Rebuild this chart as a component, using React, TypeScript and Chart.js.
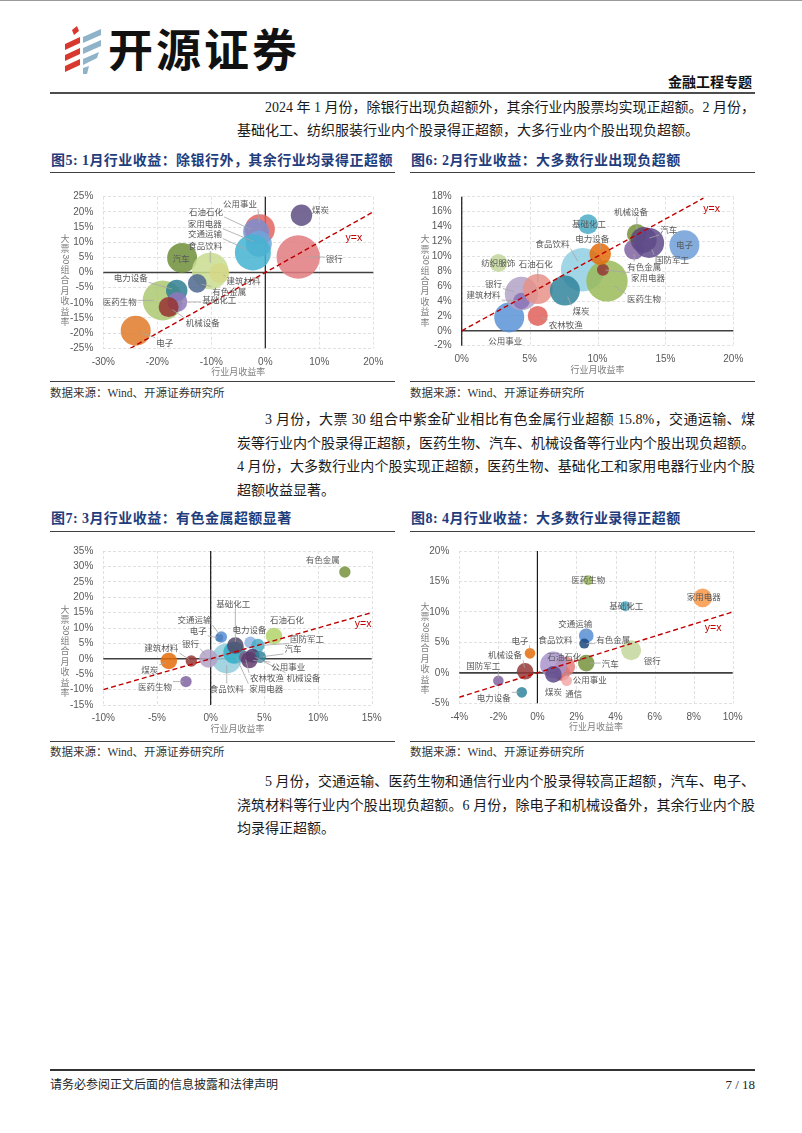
import React, { useEffect, useRef } from "react";
import { Chart, registerables } from "chart.js";

Chart.register(...registerables);

// ===== 图5：1月 =====
const janNames = ["煤炭", "银行", "公用事业", "石油石化", "家用电器", "交通运输", "汽车", "食品饮料", "建筑材料", "有色金属", "医药生物", "电力设备", "基础化工", "机械设备", "电子"];
const janIndustryRet = [6.7, 6.1, -1.0, -1.7, -1.2, -2.3, -15.4, -10.2, -8.5, -12.6, -19.0, -16.4, -16.3, -17.9, -24.0];
const janPortfolioRet = [18.9, 5.1, 14.3, 13.4, 9.5, 6.6, 4.8, 0.5, -0.2, -3.6, -9.2, -5.9, -9.7, -11.4, -19.2];
const janSize = [10.7, 21.7, 15, 13, 13, 18, 15, 18.3, 10, 9.3, 20, 10.7, 10, 10, 15];
const janXTicks = [-30, -20, -10, 0, 10, 20];
const janYTicks = [-25, -20, -15, -10, -5, 0, 5, 10, 15, 20, 25];

// ===== 图6：2月 =====
const febNames = ["纺织服饰", "食品饮料", "医药生物", "家用电器", "公用事业", "银行", "建筑材料", "石油石化", "农林牧渔", "煤炭", "电力设备", "基础化工", "有色金属", "机械设备", "汽车", "国防军工", "电子"];
const febIndustryRet = [2.7, 8.9, 10.7, 10.4, 3.5, 4.4, 4.4, 5.6, 5.6, 7.6, 10.2, 9.3, 12.7, 12.9, 13.4, 13.8, 16.4];
const febPortfolioRet = [9.1, 8.2, 6.7, 8.2, 1.8, 5.0, 4.0, 5.6, 2.0, 5.4, 10.3, 14.3, 10.9, 13.0, 12.2, 11.8, 11.5];
const febSize = [9, 21.7, 20.7, 6, 15, 16.7, 8.3, 15, 10, 15, 10.7, 10, 10, 10, 13, 15, 15];
const febXTicks = [0, 5, 10, 15, 20];
const febYTicks = [-2, 0, 2, 4, 6, 8, 10, 12, 14, 16, 18];

// ===== 图7：3月 =====
const marNames = ["有色金属", "石油石化", "交通运输", "电子", "食品饮料", "家用电器", "基础化工", "电力设备", "国防军工", "农林牧渔", "机械设备", "汽车", "公用事业", "银行", "建筑材料", "煤炭", "医药生物"];
const marIndustryRet = [12.5, 5.9, 1.0, 0.8, 1.5, 2.2, 2.3, 3.7, 4.4, 3.2, 3.9, 4.6, 3.6, -0.2, -1.8, -3.9, -2.3];
const marPortfolioRet = [28.2, 7.4, 7.1, 6.8, 0.1, 2.0, 4.3, 5.3, 4.3, 0.6, 1.0, 0.6, -0.4, 0.1, -0.7, -0.7, -7.4];
const marSize = [5.7, 8.3, 5.7, 4, 15, 11, 8.3, 6, 6.7, 6, 7, 6, 8.3, 9.3, 5.7, 8.3, 5.7];
const marXTicks = [-10, -5, 0, 5, 10, 15];
const marYTicks = [-15, -10, -5, 0, 5, 10, 15, 20, 25, 30, 35];

// ===== 图8：4月 =====
const aprNames = ["公用事业", "石油石化", "食品饮料", "煤炭", "通信", "家用电器", "医药生物", "基础化工", "交通运输", "有色金属", "银行", "汽车", "电子", "机械设备", "国防军工", "电力设备"];
const aprIndustryRet = [1.25, 1.42, 0.82, 0.82, 1.5, 8.46, 2.6, 4.5, 2.5, 2.4, 4.8, 2.5, -0.38, -0.63, -2.0, -0.8];
const aprPortfolioRet = [0.0, 1.06, 1.3, -0.26, -1.3, 12.3, 15.2, 10.95, 6.1, 4.8, 3.7, 1.6, 3.2, 0.26, -1.3, -3.2];
const aprSize = [8, 10, 13.3, 8.3, 5.3, 9.3, 5, 5, 7.3, 5, 10, 8.3, 5.3, 8.3, 5.3, 5.3];
const aprXTicks = [-4, -2, 0, 2, 4, 6, 8, 10];
const aprYTicks = [-5, 0, 5, 10, 15, 20];

// ===== styles (colours / label placement) =====
const janColors = ["#5f4f82", "#e07b80", "#e2645f", "#7b8fd0", "#6ea6dc", "#45b3d1", "#6f8f3a", "#c9dc8f", "#d6d88a", "#4e6791", "#adc971", "#2f7f93", "#8f78bd", "#993333", "#e07a2a"];
const janLabelOffsets = [[19, -5, 0], [36, 2, 1], [-20, -25, 1], [-50, -20, 1], [-54, -20, 1], [-48, -19, 1], [-1, 1, 0], [-5, -25, 1], [24, 8, 1], [32, 8, 1], [-43, 1, 1], [-46, -13, 1], [42, -2, 1], [34, 16, 1], [29, 12, 1]];

const febColors = ["#c3d69b", "#8fcfe0", "#9bbb59", "#953735", "#5b93d6", "#b3a2c7", "#8a72b8", "#e6928a", "#e0605a", "#31859c", "#e46c0a", "#4bacc6", "#8064a2", "#77933c", "#604a7b", "#5f4b8b", "#6f9fd8"];
const febLabelOffsets = [[0, 0, 0], [-30, -26, 1], [37, 18, 1], [45, 8, 1], [-4, 23, 0], [-28, -10, 1], [-38, -6, 1], [-2, -25, 1], [28, 9, 1], [16, 20, 1], [-8, -15, 1], [1, 0, 0], [10, 17, 1], [-6, -22, 1], [25, -10, 1], [23, 17, 1], [0, 0, 0]];

const marColors = ["#77933c", "#b3d36a", "#558ed5", "#4f81bd", "#93cddd", "#31b0c9", "#514a6a", "#8eb4e3", "#4bacc6", "#7f6084", "#4a3a6a", "#31859c", "#5f3c6e", "#b3a2c7", "#953735", "#e46c0a", "#8064a2"];
const marLabelOffsets = [[-22, -12, 0], [13, -16, 0], [-27, -17, 1], [-21, -7, 1], [0, 30, 1], [32, 36, 1], [-2, -42, 1], [-1, -13, 0], [49, -7, 1], [22, 21, 1], [51, 22, 1], [33, -8, 1], [39, 7, 1], [-18, -15, 1], [-30, -13, 1], [-19, 9, 1], [-31, 5, 1]];

const aprColors = ["#c0504d", "#e07b7b", "#a994cc", "#5f4b8b", "#f2a8a8", "#f79646", "#9bbb59", "#4bacc6", "#558ed5", "#1f497d", "#c3d69b", "#77933c", "#e46c0a", "#953735", "#8064a2", "#31859c"];
const aprLabelOffsets = [[28, 7, 1], [-1, -10, 0], [2, -25, 0], [0, 17, 0], [7, 13, 0], [1, -1, 0], [0, 0, 0], [1, 0, 0], [-11, -12, 1], [29, -4, 1], [21, 10, 0], [24, 1, 1], [-10, -13, 1], [-20, -16, 1], [-15, -15, 1], [-28, 5, 1]];

const CW = 345;
const CH = 205;

type Spec = {
  names: string[];
  xs: number[];
  ys: number[];
  sizes: number[];
  colors: string[];
  offsets: number[][];
  xTicks: number[];
  yTicks: number[];
  line: [number, number];
  yxAt: [number, number];
  area: { left: number; right: number; top: number; bottom: number };
  yTitleY: number;
};

const specs: Record<string, Spec> = {
  jan: {
    names: janNames, xs: janIndustryRet, ys: janPortfolioRet, sizes: janSize, colors: janColors, offsets: janLabelOffsets,
    xTicks: janXTicks, yTicks: janYTicks, line: [-25, 20], yxAt: [16.4, 11.5],
    area: { left: 53.3, right: 326.7, top: 10, bottom: 173.3 }, yTitleY: 105,
  },
  feb: {
    names: febNames, xs: febIndustryRet, ys: febPortfolioRet, sizes: febSize, colors: febColors, offsets: febLabelOffsets,
    xTicks: febXTicks, yTicks: febYTicks, line: [0, 17.8], yxAt: [18.4, 16.4],
    area: { left: 51.7, right: 325, top: 12.3, bottom: 170.7 }, yTitleY: 105.5,
  },
  mar: {
    names: marNames, xs: marIndustryRet, ys: marPortfolioRet, sizes: marSize, colors: marColors, offsets: marLabelOffsets,
    xTicks: marXTicks, yTicks: marYTicks, line: [-10, 15], yxAt: [14.2, 11.4],
    area: { left: 53.3, right: 321.7, top: 11, bottom: 170 }, yTitleY: 116,
  },
  apr: {
    names: aprNames, xs: aprIndustryRet, ys: aprPortfolioRet, sizes: aprSize, colors: aprColors, offsets: aprLabelOffsets,
    xTicks: aprXTicks, yTicks: aprYTicks, line: [-4, 10], yxAt: [9.0, 7.4],
    area: { left: 49.3, right: 322.7, top: 11, bottom: 168.3 }, yTitleY: 113,
  },
};

const CJK = '"Noto Sans CJK SC", sans-serif';
const TICK_FONT = '10px "Liberation Sans", Arial, sans-serif';
const YTITLE = ["大", "票", "30", "组", "合", "月", "收", "益", "率"];

function withAlpha(hex: string, a: number) {
  const n = parseInt(hex.slice(1), 16);
  return `rgba(${(n >> 16) & 255},${(n >> 8) & 255},${n & 255},${a})`;
}

function decoPlugin(spec: Spec) {
  return {
    id: "deco",
    beforeDatasetsDraw(chart: any) {
      const { ctx, chartArea: a, scales } = chart;
      const xs = scales.x;
      const ys = scales.y;
      ctx.save();
      // vertical dashed gridlines + x tick labels, placed by the x scale
      ctx.strokeStyle = "#d9d9d9";
      ctx.lineWidth = 0.8;
      ctx.setLineDash([3, 2]);
      spec.xTicks.forEach((v) => {
        const px = Math.round(xs.getPixelForValue(v)) + 0.5;
        ctx.beginPath();
        ctx.moveTo(px, a.top);
        ctx.lineTo(px, a.bottom);
        ctx.stroke();
      });
      ctx.setLineDash([]);
      ctx.fillStyle = "#595959";
      ctx.font = TICK_FONT;
      ctx.textAlign = "center";
      ctx.textBaseline = "middle";
      spec.xTicks.forEach((v) => {
        ctx.fillText(`${v}%`, xs.getPixelForValue(v), a.bottom + 13.5);
      });
      // zero axes
      const x0 = xs.getPixelForValue(0);
      const y0 = ys.getPixelForValue(0);
      ctx.strokeStyle = "#404040";
      ctx.lineWidth = 1.6;
      ctx.beginPath();
      ctx.moveTo(a.left, y0);
      ctx.lineTo(a.right, y0);
      ctx.stroke();
      ctx.strokeStyle = "#1a1a1a";
      ctx.lineWidth = 1.2;
      ctx.beginPath();
      ctx.moveTo(x0, a.top);
      ctx.lineTo(x0, a.bottom);
      ctx.stroke();
      ctx.restore();
    },
    afterDatasetsDraw(chart: any) {
      const { ctx, chartArea: a, scales } = chart;
      const meta = chart.getDatasetMeta(1);
      ctx.save();
      ctx.font = `8.5px ${CJK}`;
      ctx.textAlign = "center";
      ctx.textBaseline = "middle";
      meta.data.forEach((el: any, i: number) => {
        const name = spec.names[i];
        const [dx, dy, lead] = spec.offsets[i];
        const px = el.x;
        const py = el.y;
        const r = spec.sizes[i];
        const lx = px + dx;
        const ly = py + dy;
        const w = ctx.measureText(name).width;
        const h = 10;
        if (lead) {
          const bx = Math.max(lx - w / 2 - 1, Math.min(px, lx + w / 2 + 1));
          const by = Math.max(ly - h / 2, Math.min(py, ly + h / 2));
          const vx = bx - px;
          const vy = by - py;
          const d = Math.hypot(vx, vy);
          const stop = r * 0.45;
          if (d > stop + 2) {
            ctx.strokeStyle = "#a6a6a6";
            ctx.lineWidth = 0.8;
            ctx.beginPath();
            ctx.moveTo(bx, by);
            ctx.lineTo(px + (vx / d) * stop, py + (vy / d) * stop);
            ctx.stroke();
          }
        }
        ctx.fillStyle = "#595959";
        ctx.fillText(name, lx, ly);
      });
      // y=x label
      ctx.fillStyle = "#c00000";
      ctx.font = '10.5px "Liberation Sans", Arial, sans-serif';
      ctx.fillText("y=x", scales.x.getPixelForValue(spec.yxAt[0]), scales.y.getPixelForValue(spec.yxAt[1]));
      // x title
      ctx.fillStyle = "#7f7f7f";
      ctx.font = `9px ${CJK}`;
      ctx.fillText("行业月收益率", (a.left + a.right) / 2, a.bottom + 23.5);
      // y title (stacked)
      const step = 10.4;
      let cy = spec.yTitleY - (step * (YTITLE.length - 1)) / 2;
      YTITLE.forEach((c) => {
        if (c.length > 1) {
          ctx.save();
          ctx.translate(15, cy);
          ctx.rotate(Math.PI / 2);
          ctx.font = '9px "Liberation Sans", Arial, sans-serif';
          ctx.fillText(c, 0, 0);
          ctx.restore();
        } else {
          ctx.font = `9px ${CJK}`;
          ctx.fillText(c, 15, cy);
        }
        cy += step;
      });
      ctx.restore();
    },
  };
}

function buildChart(canvas: HTMLCanvasElement, spec: Spec) {
  const tickFont = { family: '"Liberation Sans", Arial, sans-serif', size: 10 };
  const xt = spec.xTicks;
  const yt = spec.yTicks;
  return new Chart(canvas, {
    type: "bubble",
    data: {
      datasets: [
        {
          type: "line",
          data: [
            { x: spec.line[0], y: spec.line[0] },
            { x: spec.line[1], y: spec.line[1] },
          ],
          borderColor: "#c00000",
          borderWidth: 1.4,
          borderDash: [5, 3],
          pointRadius: 0,
          fill: false,
          order: 0,
        } as any,
        {
          type: "bubble",
          data: spec.names.map((_, i) => ({ x: spec.xs[i], y: spec.ys[i], r: spec.sizes[i] })),
          backgroundColor: spec.colors.map((c) => withAlpha(c, 0.85)),
          borderWidth: 0,
          hoverBorderWidth: 0,
          order: 1,
        } as any,
      ],
    },
    options: {
      animation: false,
      responsive: false,
      maintainAspectRatio: false,
      devicePixelRatio: 1,
      events: [],
      layout: { padding: { left: 0, top: spec.area.top, right: CW - spec.area.right, bottom: 0 } },
      plugins: { legend: { display: false }, tooltip: { enabled: false } },
      scales: {
        x: {
          type: "linear",
          min: xt[0],
          max: xt[xt.length - 1],
          ticks: { display: false },
          grid: { display: false, drawTicks: false },
          border: { display: false },
          afterFit: (s: any) => {
            s.height = CH - spec.area.bottom;
          },
        },
        y: {
          type: "linear",
          min: yt[0],
          max: yt[yt.length - 1],
          afterBuildTicks: (s: any) => {
            s.ticks = yt.map((v) => ({ value: v }));
          },
          ticks: {
            autoSkip: false,
            callback: (v: any) => `${v}%`,
            font: tickFont,
            color: "#595959",
            padding: 10,
          },
          grid: { color: "#d9d9d9", lineWidth: 0.8, drawTicks: false },
          border: { display: false, dash: [3, 2] },
          afterFit: (s: any) => {
            s.width = spec.area.left;
          },
        },
      },
    } as any,
    plugins: [decoPlugin(spec)],
  });
}

function Panel({ spec, left, top }: { spec: Spec; left: number; top: number }) {
  const ref = useRef<HTMLCanvasElement>(null);
  useEffect(() => {
    const chart = buildChart(ref.current as HTMLCanvasElement, spec);
    return () => chart.destroy();
  }, [spec]);
  return (
    <canvas
      ref={ref}
      width={CW}
      height={CH}
      style={{ position: "absolute", left, top, width: CW, height: CH }}
    />
  );
}

const BODY_FONT = '"Liberation Serif", "Noto Sans CJK SC", serif';

function Line({ top, left, width, text, justify }: { top: number; left: number; width: number; text: string; justify?: boolean }) {
  return (
    <div
      style={{
        position: "absolute",
        top: top - 11,
        left,
        width,
        height: 22,
        lineHeight: "22px",
        fontSize: 14,
        fontFamily: BODY_FONT,
        color: "#1a1a1a",
        textAlign: justify ? "justify" : "left",
        textAlignLast: justify ? "justify" : "left",
      }}
    >
      {text}
    </div>
  );
}

function FigTitle({ top, left, text }: { top: number; left: number; text: string }) {
  return (
    <div
      style={{
        position: "absolute",
        top: top - 9,
        left,
        height: 18,
        lineHeight: "18px",
        fontSize: 14,
        fontWeight: 700,
        letterSpacing: 0.45,
        fontFamily: BODY_FONT,
        color: "#1f3d7c",
        whiteSpace: "nowrap",
      }}
    >
      {text}
    </div>
  );
}

function HLine({ top, left, width, h = 1, color = "#404040" }: { top: number; left: number; width: number; h?: number; color?: string }) {
  return <div style={{ position: "absolute", top, left, width, height: h, background: color }} />;
}

function Source({ top, left }: { top: number; left: number }) {
  return (
    <div
      style={{
        position: "absolute",
        top: top - 8,
        left,
        height: 16,
        lineHeight: "16px",
        fontSize: 11.5,
        fontFamily: BODY_FONT,
        color: "#333",
        whiteSpace: "nowrap",
      }}
    >
      数据来源：Wind、开源证券研究所
    </div>
  );
}

function Logo() {
  return (
    <svg width={44} height={52} style={{ position: "absolute", left: 62, top: 24 }} viewBox="0 0 44 52">
      <polygon points="10,6 15,2 17,7 12,11" fill="#d9382e" />
      <polygon points="3,20 18,13 18,19 3,26" fill="#d9382e" />
      <polygon points="3,31 18,24 18,30 3,37" fill="#d9382e" />
      <polygon points="3,42 18,35 18,41 3,48" fill="#d9382e" />
      <polygon points="21,13 39,5 39,11 21,19" fill="#8fb3c9" />
      <polygon points="21,24 39,16 39,22 21,30" fill="#8fb3c9" />
      <polygon points="21,35 37,28 35,34 21,41" fill="#8fb3c9" />
      <polygon points="21,44 27,42 25,50 21,50" fill="#8fb3c9" />
    </svg>
  );
}

export default function App() {
  const colL = 237;
  const colW = 518;
  return (
    <div style={{ position: "absolute", left: 0, top: 0, width: 802, height: 1133, background: "#fff", overflow: "hidden" }}>
      <HLine top={0} left={0} width={802} color="#9a9a9a" />
      <Logo />
      <div
        style={{
          position: "absolute",
          left: 108,
          top: 22,
          fontSize: 45,
          lineHeight: "52px",
          fontWeight: 700,
          letterSpacing: 3,
          fontFamily: CJK,
          color: "#111",
          whiteSpace: "nowrap",
        }}
      >
        开源证券
      </div>
      <div
        style={{
          position: "absolute",
          left: 600,
          width: 152,
          top: 74,
          textAlign: "right",
          fontSize: 14,
          lineHeight: "18px",
          fontWeight: 700,
          fontFamily: BODY_FONT,
          color: "#111",
        }}
      >
        金融工程专题
      </div>
      <HLine top={92} left={50} width={705} h={2} color="#4d4d4d" />

      <Line top={108} left={colL + 28} width={colW - 28} justify text="2024 年 1 月份，除银行出现负超额外，其余行业内股票均实现正超额。2 月份，" />
      <Line top={131} left={colL} width={colW} text="基础化工、纺织服装行业内个股录得正超额，大多行业内个股出现负超额。" />

      <FigTitle top={161} left={51} text="图5: 1月行业收益：除银行外，其余行业均录得正超额" />
      <FigTitle top={161} left={411} text="图6: 2月行业收益：大多数行业出现负超额" />
      <HLine top={172} left={50} width={345} />
      <HLine top={172} left={410} width={345} />
      <Panel spec={specs.jan} left={50} top={175} />
      <Panel spec={specs.feb} left={410} top={175} />
      <HLine top={381} left={50} width={345} />
      <HLine top={381} left={410} width={345} />
      <Source top={393} left={50} />
      <Source top={393} left={410} />

      <Line top={420} left={colL + 28} width={colW - 28} justify text="3 月份，大票 30 组合中紫金矿业相比有色金属行业超额 15.8%，交通运输、煤" />
      <Line top={443.5} left={colL} width={colW} justify text="炭等行业内个股录得正超额，医药生物、汽车、机械设备等行业内个股出现负超额。" />
      <Line top={467} left={colL} width={colW} justify text="4 月份，大多数行业内个股实现正超额，医药生物、基础化工和家用电器行业内个股" />
      <Line top={490.5} left={colL} width={colW} text="超额收益显著。" />

      <FigTitle top={519} left={51} text="图7: 3月行业收益：有色金属超额显著" />
      <FigTitle top={519} left={411} text="图8: 4月行业收益：大多数行业录得正超额" />
      <HLine top={531} left={50} width={345} />
      <HLine top={531} left={410} width={345} />
      <Panel spec={specs.mar} left={50} top={535} />
      <Panel spec={specs.apr} left={410} top={535} />
      <HLine top={741} left={50} width={345} />
      <HLine top={741} left={410} width={345} />
      <Source top={752} left={50} />
      <Source top={752} left={410} />

      <Line top={782} left={colL + 28} width={colW - 28} justify text="5 月份，交通运输、医药生物和通信行业内个股录得较高正超额，汽车、电子、" />
      <Line top={805.5} left={colL} width={colW} justify text="浇筑材料等行业内个股出现负超额。6 月份，除电子和机械设备外，其余行业内个股" />
      <Line top={829} left={colL} width={colW} text="均录得正超额。" />

      <HLine top={1069} left={50} width={705} h={1.5} color="#333" />
      <div
        style={{
          position: "absolute",
          left: 50,
          top: 1077,
          fontSize: 12,
          lineHeight: "16px",
          fontFamily: BODY_FONT,
          color: "#222",
          whiteSpace: "nowrap",
        }}
      >
        请务必参阅正文后面的信息披露和法律声明
      </div>
      <div
        style={{
          position: "absolute",
          left: 655,
          width: 100,
          top: 1077,
          textAlign: "right",
          fontSize: 13,
          lineHeight: "16px",
          fontFamily: BODY_FONT,
          color: "#222",
        }}
      >
        7 / 18
      </div>
    </div>
  );
}
